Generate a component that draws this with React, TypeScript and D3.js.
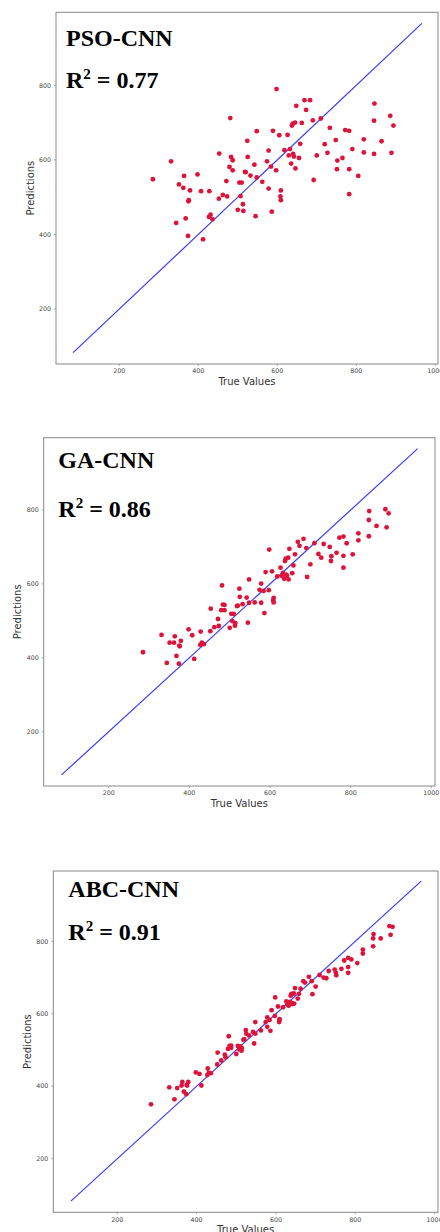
import React from "react";
import * as d3 from "d3";

// ---- data ----
const trueValues = [
  285, 331, 351, 364, 362, 344, 368, 379, 376, 375,
  374, 398, 407, 412, 428, 427, 431, 436, 453, 452,
  462, 473, 471, 481, 483, 487, 479, 487, 500, 504,
  510, 507, 513, 514, 518, 520, 524, 525, 532, 542,
  548, 548, 545, 562, 574, 578, 578, 589, 584, 597,
  586, 598, 605, 609, 608, 609, 618, 626, 629, 632,
  635, 640, 642, 637, 639, 645, 648, 646, 655, 658,
  662, 669, 683, 673, 690, 692, 700, 710, 720, 727,
  733, 748, 752, 751, 765, 772, 782, 782, 782, 790,
  805, 819, 819, 846, 845, 845, 864, 886, 889, 894,
];

const psoPredictions = [
  548, 596, 534, 557, 525, 431, 443, 518, 492, 489,
  396, 561, 516, 387, 516, 447, 453, 441, 617, 496,
  506, 502, 543, 712, 608, 599, 581, 572, 466, 539,
  539, 503, 481, 463, 568, 567, 651, 608, 558, 587,
  677, 553, 449, 541, 596, 625, 523, 678, 582, 572,
  461, 790, 666, 518, 502, 492, 626, 667, 612, 629,
  590, 616, 609, 692, 697, 700, 745, 577, 605, 643,
  699, 760, 760, 734, 706, 546, 612, 711, 642, 619,
  686, 653, 598, 575, 605, 680, 678, 575, 508, 629,
  557, 655, 620, 751, 705, 616, 650, 718, 619, 692,
];

const gaPredictions = [
  415, 462, 441, 458, 441, 386, 405, 446, 431, 433,
  384, 477, 461, 397, 471, 435, 441, 437, 533, 472,
  483, 486, 505, 596, 544, 529, 529, 543, 481, 519,
  519, 499, 487, 494, 540, 541, 587, 565, 545, 563,
  612, 549, 495, 550, 584, 601, 549, 632, 581, 583,
  521, 693, 634, 562, 556, 550, 620, 644, 622, 630,
  614, 625, 622, 662, 668, 671, 695, 612, 629, 650,
  680, 714, 722, 703, 697, 619, 653, 710, 681, 671,
  708, 700, 675, 662, 684, 725, 728, 676, 644, 710,
  680, 737, 718, 797, 773, 729, 757, 802, 753, 791,
];

const abcPredictions = [
  350, 397, 395, 412, 402, 364, 385, 412, 402, 404,
  378, 438, 434, 402, 449, 431, 437, 436, 493, 460,
  471, 480, 487, 538, 511, 506, 503, 512, 489, 511,
  510, 502, 498, 505, 528, 530, 555, 545, 540, 550,
  577, 545, 518, 554, 577, 590, 564, 610, 583, 594,
  553, 645, 620, 583, 577, 585, 618, 634, 626, 622,
  633, 630, 627, 650, 655, 656, 671, 628, 642, 655,
  669, 690, 702, 686, 690, 654, 675, 707, 700, 698,
  718, 722, 706, 713, 724, 747, 754, 729, 713, 750,
  740, 777, 766, 820, 808, 786, 808, 842, 818, 840,
];

const modelNames = ["PSO-CNN", "GA-CNN", "ABC-CNN"];
const r2Labels = ["0.77", "0.86", "0.91"];
const xTicks = [200, 400, 600, 800, 1000];
const yTicks = [200, 400, 600, 800];
const idealLine = [83, 966];
const xAxisTitle = "True Values";
const yAxisTitle = "Predictions";

const predictionSets = [psoPredictions, gaPredictions, abcPredictions];

const layouts = [
  { l: 56, t: 12.3, r: 438, b: 364, x200: 119.3, x800: 356.3, y800: 85.3, y200: 309, tx: 66, ty: 45.7, ry: 88.3 },
  { l: 43.7, t: 437.7, r: 435, b: 786, x200: 108.7, x800: 350.7, y800: 510, y200: 731.7, tx: 58.3, ty: 467.7, ry: 517.3 },
  { l: 53.3, t: 871, r: 438, b: 1212.3, x200: 117.3, x800: 355.3, y800: 941.3, y200: 1158.7, tx: 68.3, ty: 897.3, ry: 940 },
];

const tickFont = "DejaVu Sans, sans-serif";
const titleFont = "'Liberation Serif', 'Times New Roman', serif";

function Panel({ idx }: { idx: number }) {
  const L = layouts[idx];
  const preds = predictionSets[idx];
  const x = d3.scaleLinear().domain([200, 800]).range([L.x200, L.x800]);
  const y = d3.scaleLinear().domain([200, 800]).range([L.y200, L.y800]);
  const line = d3
    .line<number>()
    .x((d) => x(d))
    .y((d) => y(d));
  const clipId = `clip${idx}`;
  const cx = (L.l + L.r) / 2;
  const cy = (L.t + L.b) / 2;
  return (
    <g>
      <defs>
        <clipPath id={clipId}>
          <rect x={L.l} y={L.t} width={L.r - L.l} height={L.b - L.t} />
        </clipPath>
      </defs>
      <g clipPath={`url(#${clipId})`}>
        <path d={line(idealLine) || ""} stroke="#3a3aff" strokeWidth={1.2} fill="none" />
        {trueValues.map((tv, i) => (
          <circle key={i} cx={x(tv)} cy={y(preds[i])} r={2.4} fill="#dc143c" />
        ))}
      </g>
      <rect x={L.l} y={L.t} width={L.r - L.l} height={L.b - L.t} fill="none" stroke="#888" strokeWidth={1} />
      {xTicks.map((t) => (
        <g key={t}>
          <line x1={x(t)} x2={x(t)} y1={L.b} y2={L.b + 2} stroke="#888" strokeWidth={0.7} />
          <text x={x(t)} y={L.b + 9.2} fontSize={6.3} fontFamily={tickFont} fill="#444" textAnchor="middle">
            {t}
          </text>
        </g>
      ))}
      {yTicks.map((t) => (
        <g key={t}>
          <line x1={L.l - 2} x2={L.l} y1={y(t)} y2={y(t)} stroke="#888" strokeWidth={0.7} />
          <text x={L.l - 5} y={y(t) + 2.2} fontSize={6.3} fontFamily={tickFont} fill="#444" textAnchor="end">
            {t}
          </text>
        </g>
      ))}
      <text x={cx} y={L.b + 21} fontSize={10} fontFamily={tickFont} fill="#333" textAnchor="middle">
        {xAxisTitle}
      </text>
      <text
        transform={`translate(${L.l - 22.5},${cy}) rotate(-90)`}
        fontSize={10}
        fontFamily={tickFont}
        fill="#333"
        textAnchor="middle"
      >
        {yAxisTitle}
      </text>
      <text x={L.tx} y={L.ty} fontSize={24} fontWeight="bold" fontFamily={titleFont} fill="#000">
        {modelNames[idx]}
      </text>
      <text x={L.tx} y={L.ry} fontSize={24} fontWeight="bold" fontFamily={titleFont} fill="#000" style={{ whiteSpace: "pre" }}>
        <tspan>R</tspan>
        <tspan dy={-9} fontSize={15}>2</tspan>
        <tspan dy={9}>{` = ${r2Labels[idx]}`}</tspan>
      </text>
    </g>
  );
}

export default function App() {
  return (
    <svg
      width={440}
      height={1232}
      style={{ position: "absolute", left: 0, top: 0, background: "#fff", display: "block" }}
    >
      <rect x={0} y={0} width={440} height={1232} fill="#fff" />
      {modelNames.map((_, i) => (
        <Panel key={i} idx={i} />
      ))}
    </svg>
  );
}
